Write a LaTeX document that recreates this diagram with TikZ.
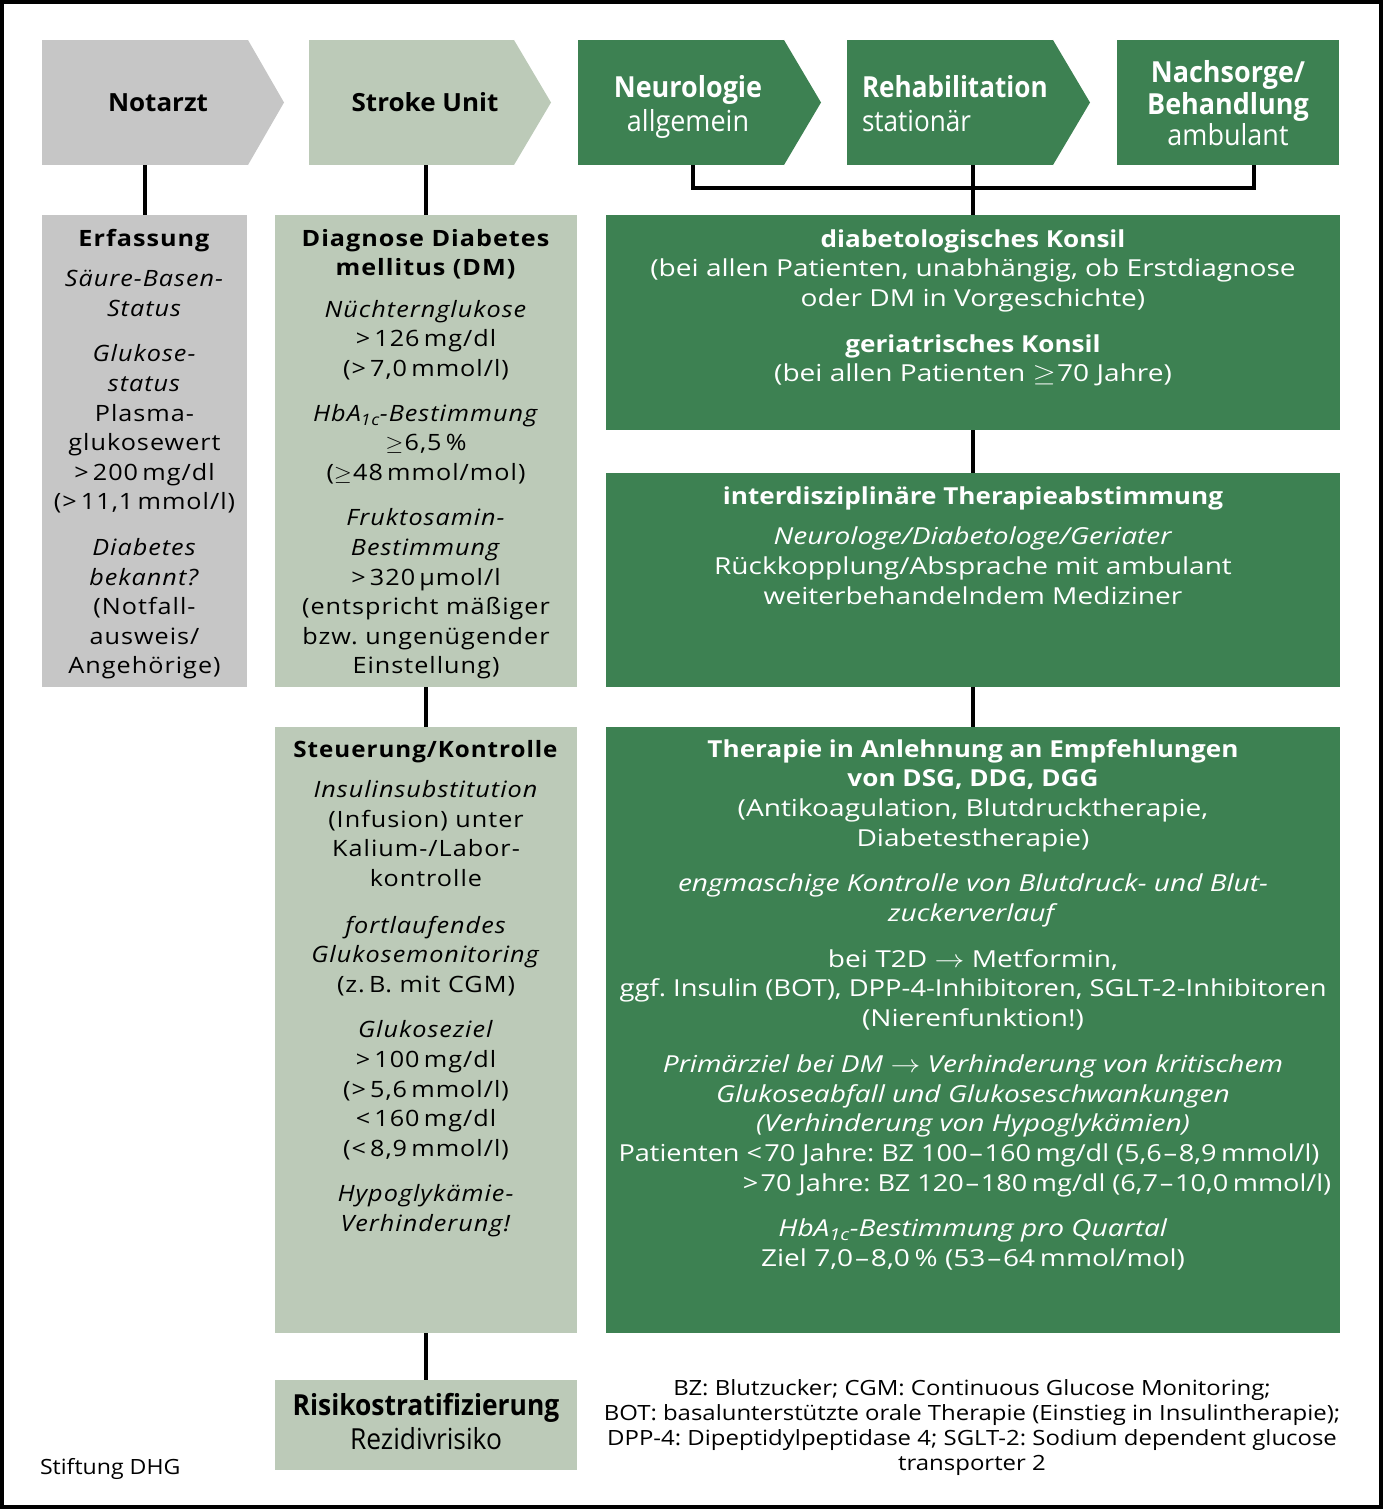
\documentclass[tikz,border=0pt]{standalone}
\usepackage{fontspec}
\usepackage{graphicx}
\setmainfont{Open Sans}
\newfontfamily\widef{Open Sans}[LetterSpace=4]
\definecolor{cgray}{HTML}{C6C6C6}
\definecolor{csage}{HTML}{BCCAB8}
\definecolor{cgreen}{HTML}{3D8152}
\frenchspacing
\newcommand\blk[3]{\scalebox{#1}[1]{#2\begin{tabular}[t]{@{}c@{}}#3\end{tabular}}}
\newcommand\blkl[3]{\scalebox{#1}[1]{#2\begin{tabular}[t]{@{}l@{}}#3\end{tabular}}}
\newcommand\rb[1]{\scalebox{0.93}[1]{\bfseries #1}}
\newcommand\lfont{\widef\fontsize{22.5}{29.6}\selectfont}
\newcommand\rfont{\fontsize{23.4}{29.7}\selectfont}
\newcommand\hfont{\fontsize{29}{31.5}\selectfont}
\newcommand\nfont{\fontsize{21}{25}\selectfont}
\newcommand\nd{\kern1.5pt–\kern1.5pt}
\newcommand\mygeq{$\geq$\kern1pt}
\begin{document}
\begin{tikzpicture}[x=1pt,y=-1pt,
  box/.style={inner sep=0pt,outer sep=0pt,draw=none},
  txt/.style={inner sep=0pt,outer sep=0pt,anchor=base},
  conn/.style={line width=3.5pt,draw=black}]
\useasboundingbox (0,0) rectangle (1383,1509);
\draw[line width=4pt] (2,2) rectangle (1381,1507);

% header chevrons
\node[box,fill=cgray,minimum width=206,minimum height=125] (h1) at (145,102.5) {};
\fill[cgray] (h1.north east) -- ++(36,62.5) -- (h1.south east) -- cycle;
\node[box,fill=csage,minimum width=205,minimum height=125] (h2) at (411.5,102.5) {};
\fill[csage] (h2.north east) -- ++(37,62.5) -- (h2.south east) -- cycle;
\node[box,fill=cgreen,minimum width=206,minimum height=125] (h3) at (681,102.5) {};
\fill[cgreen] (h3.north east) -- ++(37,62.5) -- (h3.south east) -- cycle;
\node[box,fill=cgreen,minimum width=206,minimum height=125] (h4) at (950,102.5) {};
\fill[cgreen] (h4.north east) -- ++(37,62.5) -- (h4.south east) -- cycle;
\node[box,fill=cgreen,minimum width=222,minimum height=125] (h5) at (1228,102.5) {};

\node[txt] (t1) at (158,112) {\scalebox{1.04}[1]{\fontsize{25}{30}\selectfont\bfseries Notarzt}};
\node[txt] (t2) at (425,112) {\scalebox{1.04}[1]{\fontsize{25}{30}\selectfont\bfseries Stroke Unit}};
\node[txt,text=white] (t3) at (688,98) {\blk{0.93}{\hfont}{\textbf{Neurologie}\\[2.5pt] allgemein}};
\node[txt,anchor=base west,text=white] (t4) at (862,98) {\blkl{0.9}{\hfont}{\textbf{Rehabilitation}\\[2.5pt] stationär}};
\node[txt,text=white] (t5) at (1228,83) {\blk{0.93}{\hfont}{\textbf{Nachsorge/}\\ \textbf{Behandlung}\\ ambulant}};

% boxes
\node[box,fill=cgray,minimum width=205,minimum height=472] (erf) at (144.5,451) {};
\node[box,fill=csage,minimum width=302,minimum height=472] (diag) at (426,451) {};
\node[box,fill=csage,minimum width=302,minimum height=606] (steu) at (426,1030) {};
\node[box,fill=csage,minimum width=302,minimum height=90] (risk) at (426,1425) {};
\node[box,fill=cgreen,minimum width=734,minimum height=215] (kons) at (973,322.5) {};
\node[box,fill=cgreen,minimum width=734,minimum height=214] (inter) at (973,580) {};
\node[box,fill=cgreen,minimum width=734,minimum height=606] (ther) at (973,1030) {};

% connectors
\coordinate (b1) at (693,188);
\coordinate (b3) at (1254,188);
\draw[conn] (h1.south) -- (h1.south |- erf.north);
\draw[conn] (h2.south -| diag.north) -- (diag.north);
\draw[conn] (h3.south -| b1) -- (b1) -- (b3) -- (h5.south -| b3);
\draw[conn] (h4.south -| kons.north) -- (kons.north);
\draw[conn] (diag.south) -- (steu.north);
\draw[conn] (steu.south) -- (risk.north);
\draw[conn] (kons.south) -- (inter.north);
\draw[conn] (inter.south) -- (ther.north);

% texts
\node[txt] (erfT) at (144.5,246) {\blk{1.12}{\lfont}{\textbf{Erfassung}\\[11pt]
 \textit{Säure-Basen-}\\ \textit{Status}\\[16pt]
 \textit{Glukose-}\\ \textit{status}\\ Plasma-\\ glukosewert\\ >\,200\,mg/dl\\ (>\,11,1\,mmol/l)\\[16pt]
 \textit{Diabetes}\\ \textit{bekannt?}\\ (Notfall-\\ ausweis/\\ Angehörige)}};

\node[txt] (diagT) at (426,246) {\blk{1.12}{\lfont}{\textbf{Diagnose Diabetes}\\ \textbf{mellitus (DM)}\\[12pt]
 \textit{Nüchternglukose}\\ >\,126\,mg/dl\\ (>\,7,0\,mmol/l)\\[15pt]
 \textit{HbA\textsubscript{1c}-Bestimmung}\\ \mygeq 6,5\,\%\\ (\mygeq 48\,mmol/mol)\\[16pt]
 \textit{Fruktosamin-}\\ \textit{Bestimmung}\\ >\,320\,µmol/l\\ (entspricht mäßiger\\ bzw. ungenügender\\ Einstellung)}};

\node[txt] (steuT) at (426,757) {\blk{1.12}{\lfont}{\scalebox{0.96}[1]{\textbf{Steuerung/Kontrolle}}\\[11pt]
 \textit{Insulinsubstitution}\\ (Infusion) unter\\ Kalium-/Labor-\\ kontrolle\\[17pt]
 \textit{fortlaufendes}\\ \textit{Glukosemonitoring}\\ (z.\,B. mit CGM)\\[16pt]
 \textit{Glukoseziel}\\ >\,100\,mg/dl\\ (>\,5,6\,mmol/l)\\ <\,160\,mg/dl\\ (<\,8,9\,mmol/l)\\[16pt]
 \textit{Hypoglykämie-}\\ \textit{Verhinderung!}}};

\node[txt] (riskT) at (426,1415) {\blk{0.91}{\fontsize{29}{34}\selectfont}{\textbf{Risikostratifizierung}\\ Rezidivrisiko}};

\node[txt,text=white] (konsT) at (973,247) {\blk{1.2}{\rfont}{\rb{diabetologisches Konsil}\\
 (bei allen Patienten, unabhängig, ob Erstdiagnose\\ oder DM in Vorgeschichte)\\[16pt]
 \rb{geriatrisches Konsil}\\ (bei allen Patienten \mygeq 70 Jahre)}};

\node[txt,text=white] (interT) at (973,504) {\blk{1.2}{\rfont}{\rb{interdisziplinäre Therapieabstimmung}\\[11pt]
 \textit{Neurologe/Diabetologe/Geriater}\\ Rückkopplung/Absprache mit ambulant\\ weiterbehandelndem Mediziner}};

\node[txt,text=white] (therT) at (973,757) {\blk{1.2}{\rfont}{\rb{Therapie in Anlehnung an Empfehlungen}\\ \rb{von DSG, DDG, DGG}\\
 (Antikoagulation, Blutdrucktherapie,\\ Diabetestherapie)\\[16pt]
 \textit{engmaschige Kontrolle von Blutdruck- und Blut-}\\ \textit{zuckerverlauf}\\[16pt]
 bei T2D $\rightarrow$ Metformin,\\ \scalebox{0.975}[1]{ggf. Insulin (BOT), DPP-4-Inhibitoren, SGLT-2-Inhibitoren}\\ (Nierenfunktion!)\\[16pt]
 \textit{Primärziel bei DM $\rightarrow$ Verhinderung von kritischem}\\ \textit{Glukoseabfall und Glukoseschwankungen}\\ \textit{(Verhinderung von Hypoglykämien)}\\
 \scalebox{0.965}[1]{Patienten <\kern2pt70 Jahre: BZ 100\nd160\,mg/dl (5,6\nd8,9\,mmol/l)\hphantom{)}}\\
 \scalebox{0.965}[1]{\hphantom{Patienten }>\kern2pt70 Jahre: BZ 120\nd180\,mg/dl (6,7\nd10,0\,mmol/l)}\\[16pt]
 \textit{HbA\textsubscript{1c}-Bestimmung pro Quartal}\\ Ziel 7,0\nd8,0\,\% (53\nd64\,mmol/mol)}};

\node[txt] (foot) at (972,1395) {\blk{1.14}{\nfont}{BZ: Blutzucker; CGM: Continuous Glucose Monitoring;\\
 BOT: basalunterstützte orale Therapie (Einstieg in Insulintherapie);\\
 DPP-4: Dipeptidylpeptidase 4; SGLT-2: Sodium dependent glucose\\ transporter 2}};

\node[txt,anchor=base west] (src) at (40,1474) {\scalebox{1.1}[1]{\nfont Stiftung DHG}};
\end{tikzpicture}
\end{document}
